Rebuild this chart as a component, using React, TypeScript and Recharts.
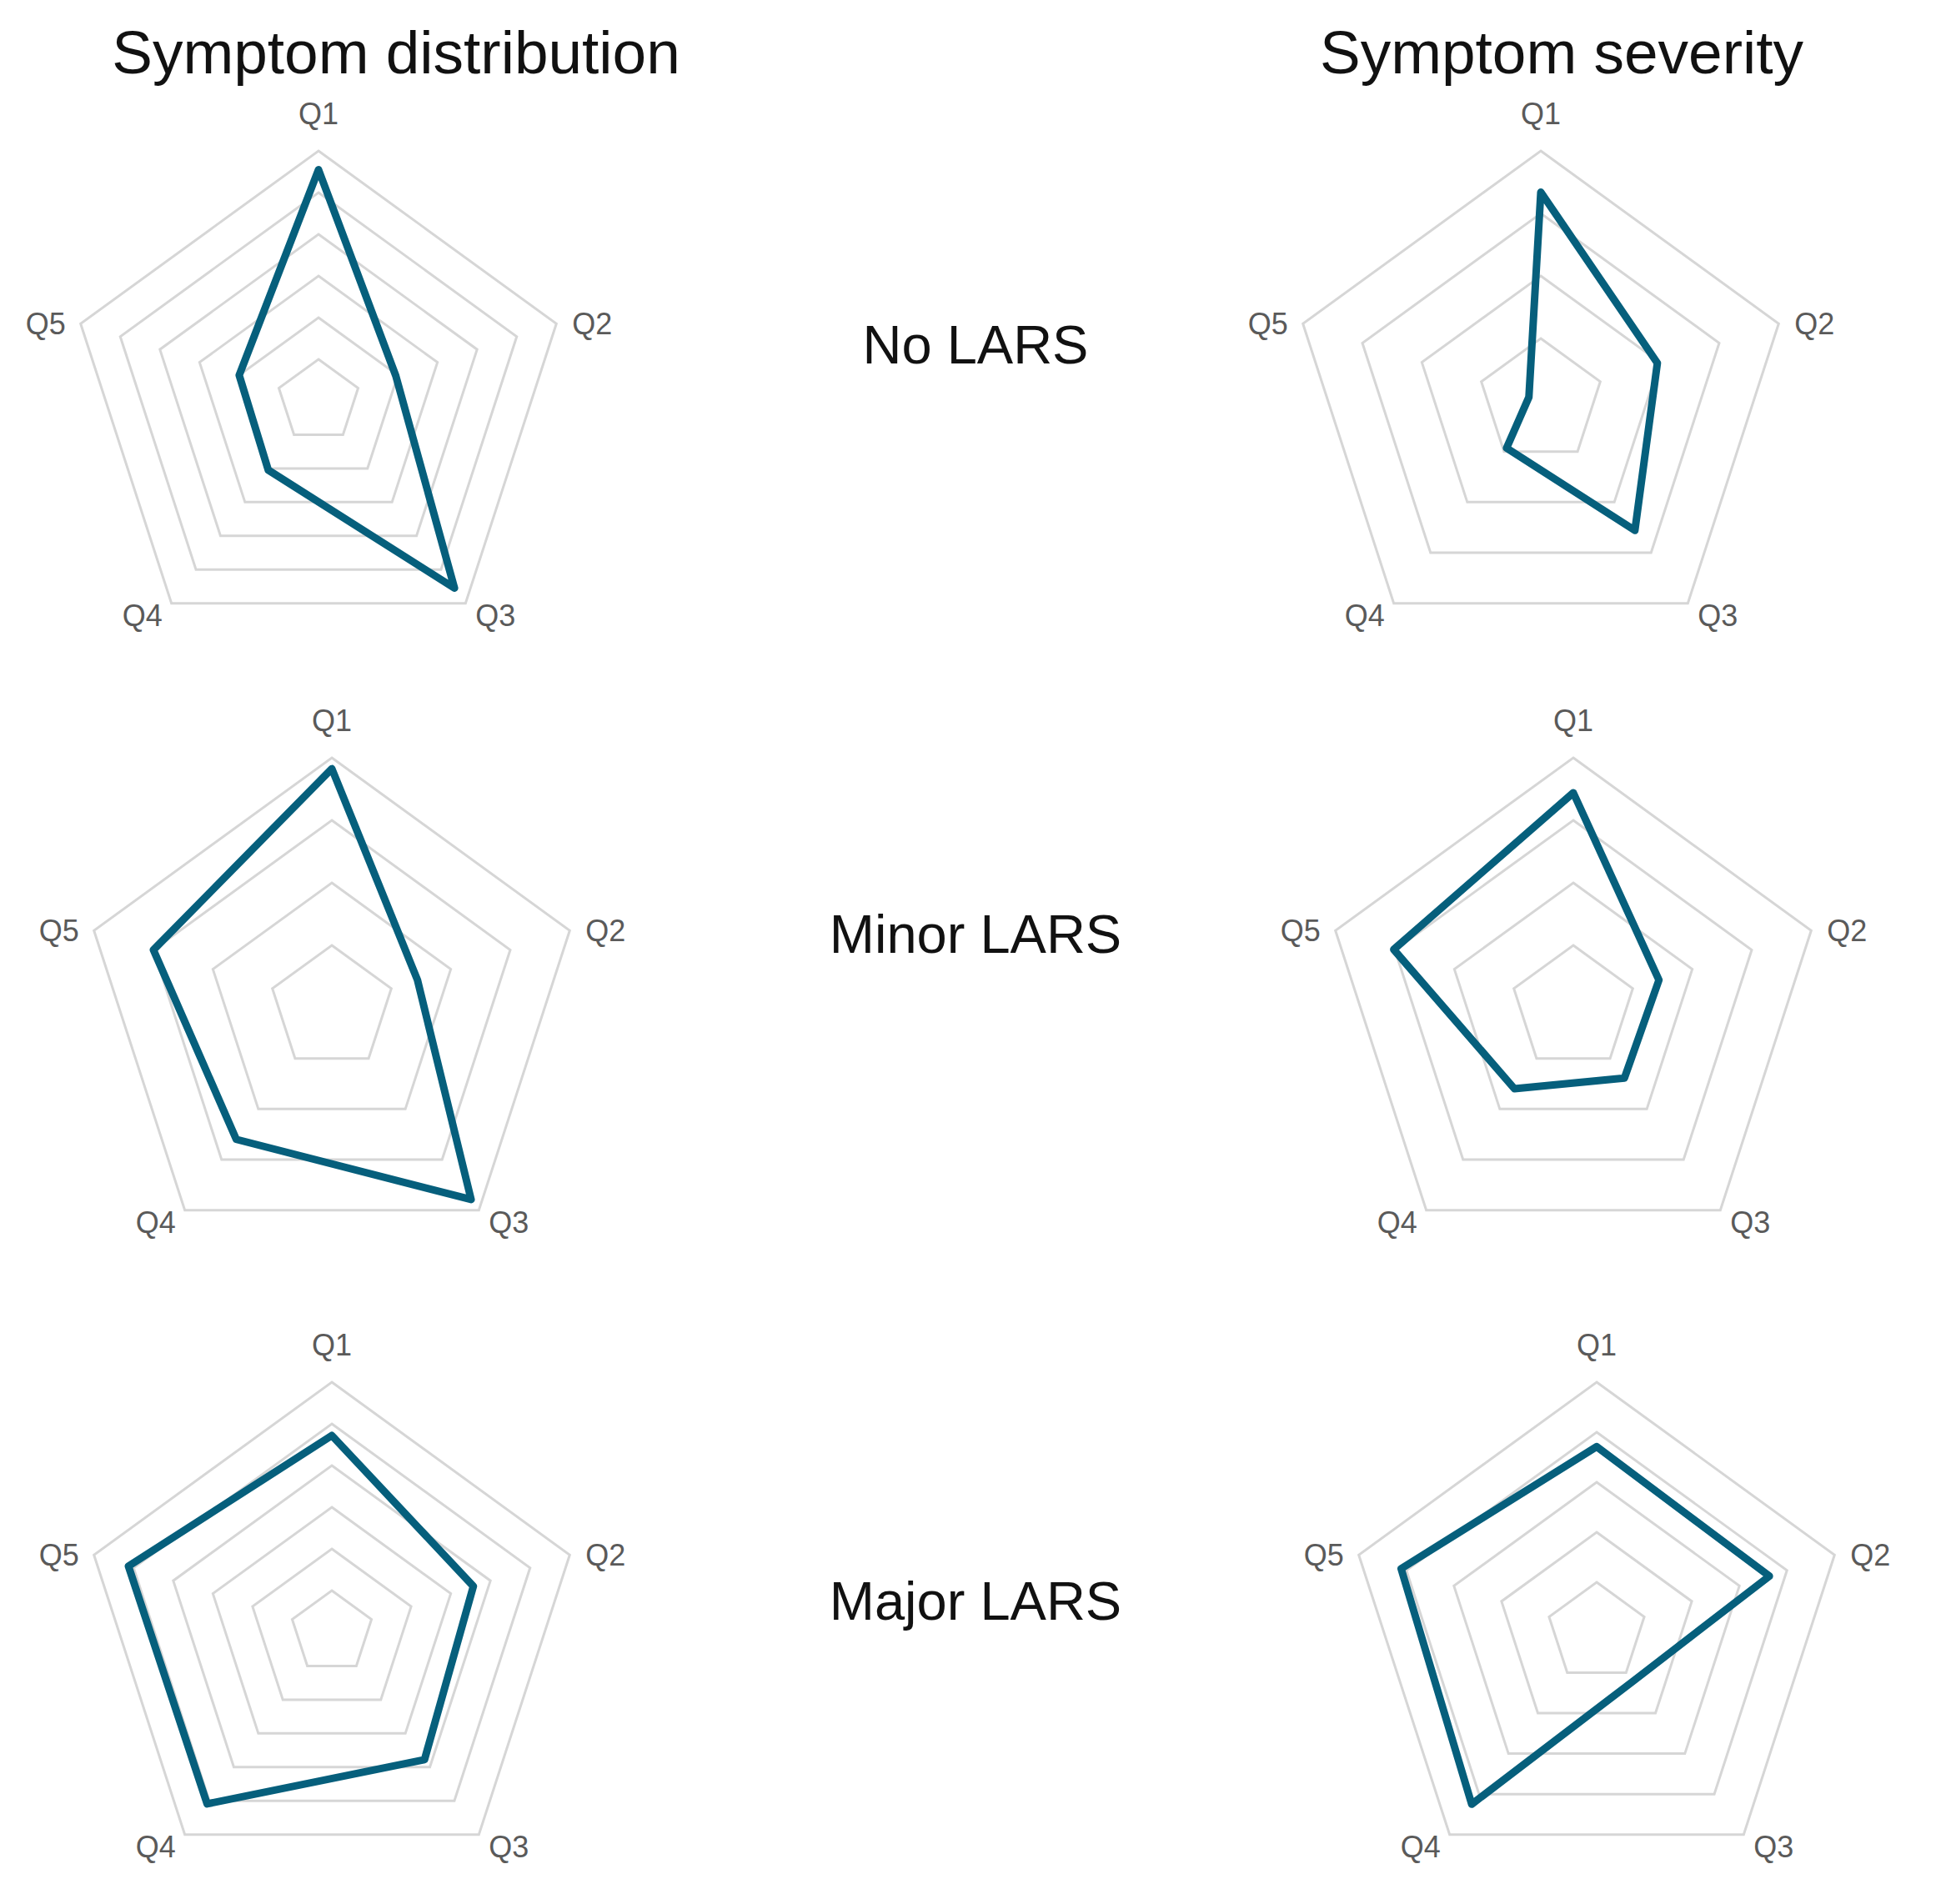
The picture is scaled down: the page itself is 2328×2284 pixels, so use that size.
import React from 'react';
import { RadarChart, Radar, PolarGrid, PolarAngleAxis, PolarRadiusAxis } from 'recharts';

const questions = ['Q1', 'Q2', 'Q3', 'Q4', 'Q5'];

// Symptom distribution
const distNoLars = [55.5, 19.5, 55.5, 20.5, 20];
const distMinorLars = [76.5, 28.8, 75.8, 52, 60];
const distMajorLars = [47.2, 35.7, 37.8, 50.9, 51.3];

// Symptom severity
const sevNoLars = [3.34, 1.96, 2.56, 0.93, 0.2];
const sevMinorLars = [3.44, 1.44, 1.39, 1.6, 3.02];
const sevMajorLars = [3.71, 3.63, 1.22, 4.25, 4.11];

const columnTitles = ['Symptom distribution', 'Symptom severity'];
const rowLabels = ['No LARS', 'Minor LARS', 'Major LARS'];

const LINE = '#065f7c';
const GRID = '#d6d6d6';
const FONT = '"Liberation Sans", Arial, sans-serif';

const LABEL_OFFSETS: Record<string, [number, number]> = {
  Q1: [0, -45],
  Q2: [43, 0],
  Q3: [36, 15],
  Q4: [-35, 15],
  Q5: [-42, 0],
};

const RADIAN = Math.PI / 180;

const renderTick = (props: any) => {
  const { cx, cy, radius, payload } = props;
  const angle = payload.coordinate;
  const vx = cx + Math.cos(-RADIAN * angle) * radius;
  const vy = cy + Math.sin(-RADIAN * angle) * radius;
  const off = LABEL_OFFSETS[payload.value] || [0, 0];
  return (
    <text
      x={vx + off[0]}
      y={vy + off[1]}
      textAnchor="middle"
      dominantBaseline="central"
      fontSize={36}
      fontFamily={FONT}
      fill="#5a5a5a"
    >
      {payload.value}
    </text>
  );
};

type PanelProps = {
  values: number[];
  max: number;
  rings: number;
  centerX: number;
  centerY: number;
};

const BOX_W = 800;
const BOX_H = 760;

function Panel({ values, max, rings, centerX, centerY }: PanelProps) {
  const data = questions.map((q, i) => ({ q, v: values[i] }));
  return (
    <div style={{ position: 'absolute', left: centerX - BOX_W / 2, top: centerY - BOX_H / 2 }}>
      <RadarChart
        width={BOX_W}
        height={BOX_H}
        data={data}
        cx={BOX_W / 2}
        cy={BOX_H / 2}
        outerRadius={300}
        startAngle={90}
        endAngle={-270}
      >
        <PolarGrid gridType="polygon" radialLines={false} stroke={GRID} strokeWidth={3} />
        <PolarAngleAxis dataKey="q" tick={renderTick} tickLine={false} axisLine={false} />
        <PolarRadiusAxis
          domain={[0, max]}
          tickCount={rings + 1}
          tick={false}
          axisLine={false}
        />
        <Radar
          dataKey="v"
          stroke={LINE}
          strokeWidth={9}
          strokeLinejoin="round"
          fill="none"
          fillOpacity={0}
          dot={false}
          isAnimationActive={false}
        />
      </RadarChart>
    </div>
  );
}

export default function App() {
  return (
    <div
      style={{
        position: 'absolute',
        left: 0,
        top: 0,
        width: 2328,
        height: 2284,
        background: '#ffffff',
        fontFamily: FONT,
        overflow: 'hidden',
      }}
    >
      <Panel values={distNoLars} max={60} rings={6} centerX={382} centerY={481} />
      <Panel values={sevNoLars} max={4} rings={4} centerX={1848} centerY={481} />
      <Panel values={distMinorLars} max={80} rings={4} centerX={398} centerY={1209} />
      <Panel values={sevMinorLars} max={4} rings={4} centerX={1887} centerY={1209} />
      <Panel values={distMajorLars} max={60} rings={6} centerX={398} centerY={1958} />
      <Panel values={sevMajorLars} max={5} rings={5} centerX={1915} centerY={1958} />

      {columnTitles.map((t, i) => (
        <div
          key={t}
          style={{
            position: 'absolute',
            left: i === 0 ? 475 : 1873,
            top: 62,
            transform: 'translate(-50%, -50%)',
            fontSize: 73,
            lineHeight: '73px',
            whiteSpace: 'nowrap',
            color: '#111',
          }}
        >
          {t}
        </div>
      ))}
      {rowLabels.map((t, i) => (
        <div
          key={t}
          style={{
            position: 'absolute',
            left: 1170,
            top: [413, 1120, 1920][i],
            transform: 'translate(-50%, -50%)',
            fontSize: 65,
            lineHeight: '65px',
            whiteSpace: 'nowrap',
            color: '#111',
          }}
        >
          {t}
        </div>
      ))}
    </div>
  );
}
